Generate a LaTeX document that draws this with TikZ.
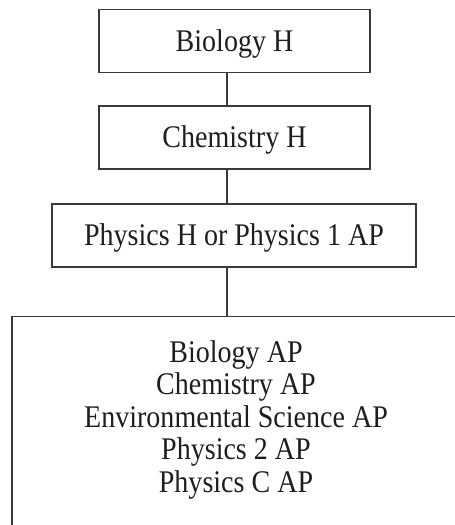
\documentclass[tikz,border=0pt]{standalone}
\usepackage{fontspec}
\setmainfont{Liberation Serif}[FakeStretch=0.89]
\usetikzlibrary{positioning}
\definecolor{rulegrey}{HTML}{3A3A3A}
\definecolor{inkdark}{HTML}{1E1E1E}

\begin{document}
\begin{tikzpicture}[
  x=1pt, y=1pt,
  % one required course, a single line of text
  course/.style={draw=rulegrey, line width=1.1pt, text=inkdark,
                 font=\fontsize{31.5}{32.5}\selectfont,
                 minimum height=63pt, inner sep=0,
                 text height=24pt, text depth=4pt},
  % the AP block runs off the page at the right and the bottom
  elective/.style={draw=rulegrey, line width=1.1pt, text=inkdark,
                   font=\fontsize{31.5}{32.5}\selectfont, align=center,
                   minimum width=448pt, inner xsep=0, inner ysep=24pt,
                   text depth=90pt},
  link/.style={draw=rulegrey, line width=1.1pt}
]
\clip (0,0) rectangle (455,-525);

% ══ the honors sequence ════════════════════════════════════════════════════
\node[course, minimum width=271pt] (bio)  at (234.5,-41)    {Biology H};
\node[course, minimum width=271pt] (chem) at (234.5,-137.5) {Chemistry H};
\node[course, minimum width=364pt] (phys) at (234,-235.5)
  {Physics H or Physics 1 AP};

% ══ AP courses ═════════════════════════════════════════════════════════════
\node[elective, anchor=north] (ap) at (236,-316)
  {Biology AP\\Chemistry AP\\Environmental Science AP\\Physics 2 AP\\Physics C AP};

% ══ connectors — all on one vertical, a little left of the box centres ════
\coordinate (spine) at (227,0);
\draw[link] (bio.south -| spine)  -- (chem.north -| spine);
\draw[link] (chem.south -| spine) -- (phys.north -| spine);
\draw[link] (phys.south -| spine) -- (ap.north -| spine);

\end{tikzpicture}
\end{document}
